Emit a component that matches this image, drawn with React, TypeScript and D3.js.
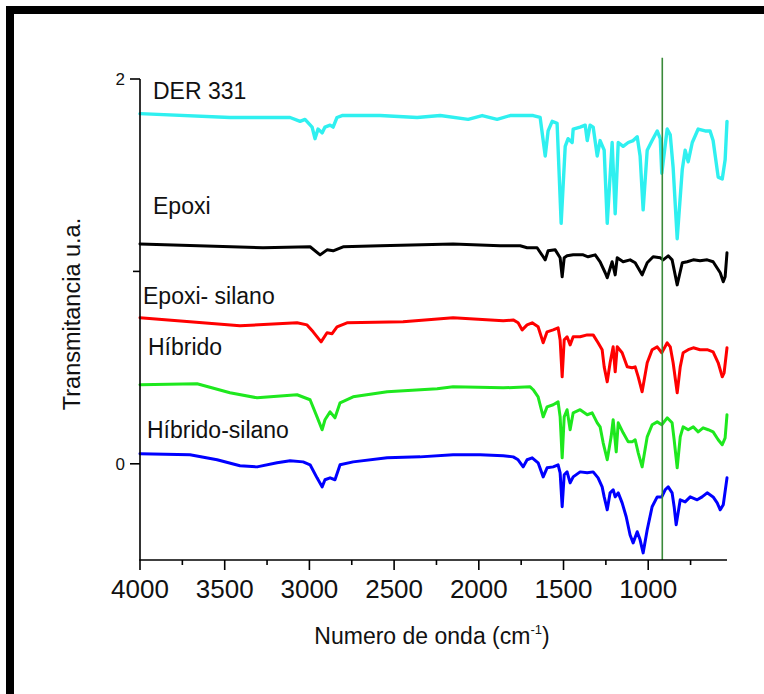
import React from "react";
import * as d3 from "d3";

type P = [number, number];

const derSeries: P[] = [
  [4000, 1.82], [3469, 1.80], [3114, 1.80], [3055, 1.78], [3026, 1.79], [2984, 1.75], [2967, 1.69],
  [2949, 1.74], [2925, 1.72], [2908, 1.75], [2878, 1.76], [2860, 1.75], [2837, 1.80], [2807, 1.81],
  [2583, 1.81], [2364, 1.80], [2228, 1.81], [2063, 1.79], [1980, 1.81], [1892, 1.79], [1815, 1.81],
  [1679, 1.81], [1638, 1.80], [1608, 1.60], [1591, 1.73], [1567, 1.78], [1538, 1.77], [1514, 1.25],
  [1490, 1.65], [1473, 1.69], [1449, 1.67], [1443, 1.74], [1402, 1.75], [1372, 1.76], [1360, 1.68],
  [1343, 1.76], [1325, 1.75], [1301, 1.60], [1284, 1.68], [1260, 1.63], [1242, 1.25], [1213, 1.67],
  [1195, 1.30], [1177, 1.67], [1148, 1.65], [1118, 1.67], [1089, 1.68], [1065, 1.70], [1048, 1.60],
  [1030, 1.32], [1006, 1.63], [977, 1.68], [947, 1.73], [929, 1.69], [920, 1.51], [888, 1.74],
  [870, 1.71], [853, 1.54], [829, 1.17], [799, 1.53], [782, 1.63], [764, 1.57], [740, 1.67],
  [705, 1.74], [664, 1.73], [635, 1.73], [617, 1.68], [587, 1.49], [563, 1.48], [546, 1.58], [535, 1.78],
];

const epoxiSeries: P[] = [
  [4000, 1.143], [3274, 1.123], [2996, 1.128], [2937, 1.086], [2896, 1.112], [2860, 1.107], [2801, 1.128],
  [2583, 1.133], [2152, 1.143], [1874, 1.133], [1756, 1.133], [1715, 1.123], [1656, 1.123], [1620, 1.076],
  [1608, 1.06], [1591, 1.107], [1549, 1.112], [1520, 1.071], [1508, 0.972], [1496, 1.071], [1479, 1.081],
  [1443, 1.086], [1384, 1.086], [1355, 1.076], [1313, 1.086], [1284, 1.05], [1254, 0.993], [1242, 0.967],
  [1213, 1.05], [1195, 0.982], [1183, 1.071], [1148, 1.05], [1107, 1.06], [1077, 1.045], [1036, 0.982],
  [1006, 1.045], [971, 1.076], [929, 1.071], [912, 1.06], [882, 1.081], [859, 1.06], [829, 0.93],
  [799, 1.045], [770, 1.05], [734, 1.06], [694, 1.055], [652, 1.06], [617, 1.05], [575, 0.993],
  [557, 0.946], [546, 0.972], [535, 1.097],
];

const epoxiSilanoSeries: P[] = [
  [4000, 0.759], [3410, 0.717], [3073, 0.733], [3014, 0.722], [2978, 0.686], [2931, 0.634], [2896, 0.681],
  [2866, 0.676], [2837, 0.712], [2778, 0.733], [2447, 0.738], [2152, 0.759], [1856, 0.743], [1797, 0.748],
  [1768, 0.733], [1744, 0.696], [1715, 0.722], [1685, 0.733], [1650, 0.712], [1620, 0.629], [1597, 0.686],
  [1561, 0.696], [1532, 0.707], [1520, 0.644], [1508, 0.452], [1496, 0.644], [1479, 0.66], [1461, 0.618],
  [1443, 0.66], [1402, 0.66], [1360, 0.67], [1325, 0.67], [1296, 0.629], [1272, 0.593], [1260, 0.504],
  [1242, 0.426], [1225, 0.525], [1207, 0.608], [1195, 0.478], [1183, 0.608], [1154, 0.577], [1124, 0.504],
  [1095, 0.499], [1077, 0.504], [1059, 0.452], [1036, 0.374], [1006, 0.525], [977, 0.593], [947, 0.608],
  [920, 0.577], [888, 0.629], [870, 0.608], [853, 0.525], [829, 0.369], [811, 0.504], [794, 0.577],
  [764, 0.593], [734, 0.603], [694, 0.593], [652, 0.593], [617, 0.582], [587, 0.525], [563, 0.452],
  [552, 0.473], [535, 0.603],
];

const hibridoSeries: P[] = [
  [4000, 0.411], [3663, 0.416], [3469, 0.369], [3309, 0.343], [3073, 0.359], [2996, 0.333], [2955, 0.244],
  [2925, 0.177], [2908, 0.229], [2878, 0.27], [2849, 0.239], [2819, 0.317], [2742, 0.348], [2541, 0.374],
  [2246, 0.39], [2152, 0.4], [1856, 0.395], [1697, 0.4], [1679, 0.385], [1650, 0.348], [1620, 0.244],
  [1597, 0.296], [1561, 0.307], [1532, 0.322], [1520, 0.244], [1508, 0.031], [1496, 0.244], [1479, 0.281],
  [1461, 0.177], [1443, 0.265], [1402, 0.281], [1360, 0.255], [1331, 0.265], [1301, 0.213], [1284, 0.192],
  [1266, 0.109], [1242, 0.021], [1219, 0.14], [1207, 0.229], [1189, 0.062], [1177, 0.213], [1148, 0.161],
  [1118, 0.114], [1095, 0.114], [1077, 0.125], [1059, 0.057], [1036, -0.016], [1006, 0.14], [977, 0.203],
  [947, 0.218], [920, 0.203], [888, 0.239], [859, 0.213], [847, 0.125], [829, -0.021], [811, 0.14],
  [794, 0.192], [764, 0.177], [734, 0.192], [705, 0.166], [676, 0.187], [646, 0.177], [617, 0.166],
  [587, 0.125], [563, 0.099], [546, 0.135], [535, 0.255],
];

const hibridoSilanoSeries: P[] = [
  [4000, 0.052], [3705, 0.047], [3545, 0.021], [3410, -0.01], [3309, -0.016], [3191, 0.005], [3114, 0.016],
  [3037, 0.01], [2996, -0.005], [2955, -0.073], [2925, -0.12], [2908, -0.083], [2878, -0.073], [2849, -0.083],
  [2819, -0.005], [2742, 0.01], [2541, 0.031], [2347, 0.036], [2152, 0.047], [1992, 0.047], [1856, 0.042],
  [1797, 0.036], [1768, 0.021], [1738, -0.016], [1715, 0.021], [1685, 0.031], [1650, 0.005], [1620, -0.068],
  [1597, -0.021], [1561, -0.016], [1532, -0.005], [1520, -0.047], [1508, -0.223], [1496, -0.057],
  [1479, -0.042], [1461, -0.099], [1443, -0.068], [1402, -0.042], [1360, -0.047], [1325, -0.042],
  [1296, -0.073], [1272, -0.12], [1260, -0.172], [1242, -0.239], [1225, -0.151], [1207, -0.135],
  [1195, -0.172], [1177, -0.151], [1154, -0.203], [1130, -0.275], [1107, -0.37], [1089, -0.411],
  [1065, -0.353], [1048, -0.395], [1030, -0.463], [1006, -0.343], [977, -0.223], [947, -0.172],
  [920, -0.172], [900, -0.135], [882, -0.12], [859, -0.151], [847, -0.223], [835, -0.317], [811, -0.187],
  [782, -0.198], [752, -0.172], [711, -0.187], [682, -0.172], [652, -0.151], [617, -0.172], [593, -0.203],
  [575, -0.239], [557, -0.213], [535, -0.073],
];

const seriesNames = ["DER 331", "Epoxi", "Epoxi- silano", "Híbrido", "Híbrido-silano"];
const seriesColors = ["#2ff0f0", "#000000", "#ff0000", "#1ee81e", "#0000ff"];
const allSeries = [derSeries, epoxiSeries, epoxiSilanoSeries, hibridoSeries, hibridoSilanoSeries];

const xMajorTicks = [4000, 3500, 3000, 2500, 2000, 1500, 1000];
const xMinorTicks = [3750, 3250, 2750, 2250, 1750, 1250, 750];
const yMajorTicks = [0, 2];
const yMinorTicks = [1];
const markerWavenumber = 917;

const FONT = "'Liberation Sans', Arial, Helvetica, sans-serif";

export default function App() {
  const x = d3.scaleLinear().domain([4000, 535]).range([140, 727]);
  const y = d3.scaleLinear().domain([-0.5, 2]).range([560, 79]);
  const line = d3
    .line<P>()
    .x((d) => x(d[0]))
    .y((d) => y(d[1]));

  const labelPos: [number, number][] = [
    [153, 99],
    [153, 214],
    [143, 304],
    [148, 355],
    [147, 438],
  ];

  return (
    <svg
      width={764}
      height={694}
      style={{ position: "absolute", left: 0, top: 0, background: "#fff" }}
      fontFamily={FONT}
    >
      <rect x={0} y={0} width={764} height={694} fill="#fff" />
      {/* frame */}
      <rect x={6} y={6} width={758} height={8} fill="#000" />
      <rect x={6} y={6} width={8} height={688} fill="#000" />

      {/* spectra */}
      {allSeries.map((s, i) => (
        <path
          key={i}
          d={line(s) || ""}
          fill="none"
          stroke={seriesColors[i]}
          strokeWidth={i === 0 ? 3.4 : 3}
          strokeLinejoin="round"
          strokeLinecap="round"
        />
      ))}

      {/* marker line */}
      <line
        x1={x(markerWavenumber)}
        x2={x(markerWavenumber)}
        y1={y(2.11)}
        y2={y(-0.5)}
        stroke="#3a8a3a"
        strokeWidth={1.6}
      />

      {/* axes */}
      <line x1={140} x2={140} y1={y(2)} y2={y(-0.5)} stroke="#000" strokeWidth={1.6} />
      <line x1={139.2} x2={727} y1={y(-0.5)} y2={y(-0.5)} stroke="#000" strokeWidth={1.6} />

      {xMajorTicks.map((t) => (
        <g key={"xm" + t}>
          <line x1={x(t)} x2={x(t)} y1={560} y2={570} stroke="#000" strokeWidth={1.6} />
          <text x={x(t)} y={598} fontSize={26} textAnchor="middle" fill="#111">
            {t}
          </text>
        </g>
      ))}
      {xMinorTicks.map((t) => (
        <line key={"xn" + t} x1={x(t)} x2={x(t)} y1={560} y2={565} stroke="#000" strokeWidth={1.6} />
      ))}
      {yMajorTicks.map((t) => (
        <g key={"ym" + t}>
          <line x1={130} x2={140} y1={y(t)} y2={y(t)} stroke="#000" strokeWidth={1.6} />
          <text x={125} y={y(t) + 6} fontSize={17} textAnchor="end" fill="#111">
            {t}
          </text>
        </g>
      ))}
      {yMinorTicks.map((t) => (
        <line key={"yn" + t} x1={133} x2={140} y1={y(t)} y2={y(t)} stroke="#000" strokeWidth={1.6} />
      ))}

      {/* series labels */}
      {seriesNames.map((n, i) => (
        <text key={n} x={labelPos[i][0]} y={labelPos[i][1]} fontSize={23} fill="#111">
          {n}
        </text>
      ))}

      {/* axis titles */}
      <text x={432} y={644} fontSize={23} textAnchor="middle" fill="#111">
        Numero de onda (cm
        <tspan fontSize={13} dy={-10}>-1</tspan>
        <tspan dy={10}>)</tspan>
      </text>
      <text
        transform="translate(80,314) rotate(-90)"
        fontSize={23.5}
        textAnchor="middle"
        fill="#111"
      >
        Transmitancia u.a.
      </text>
    </svg>
  );
}
